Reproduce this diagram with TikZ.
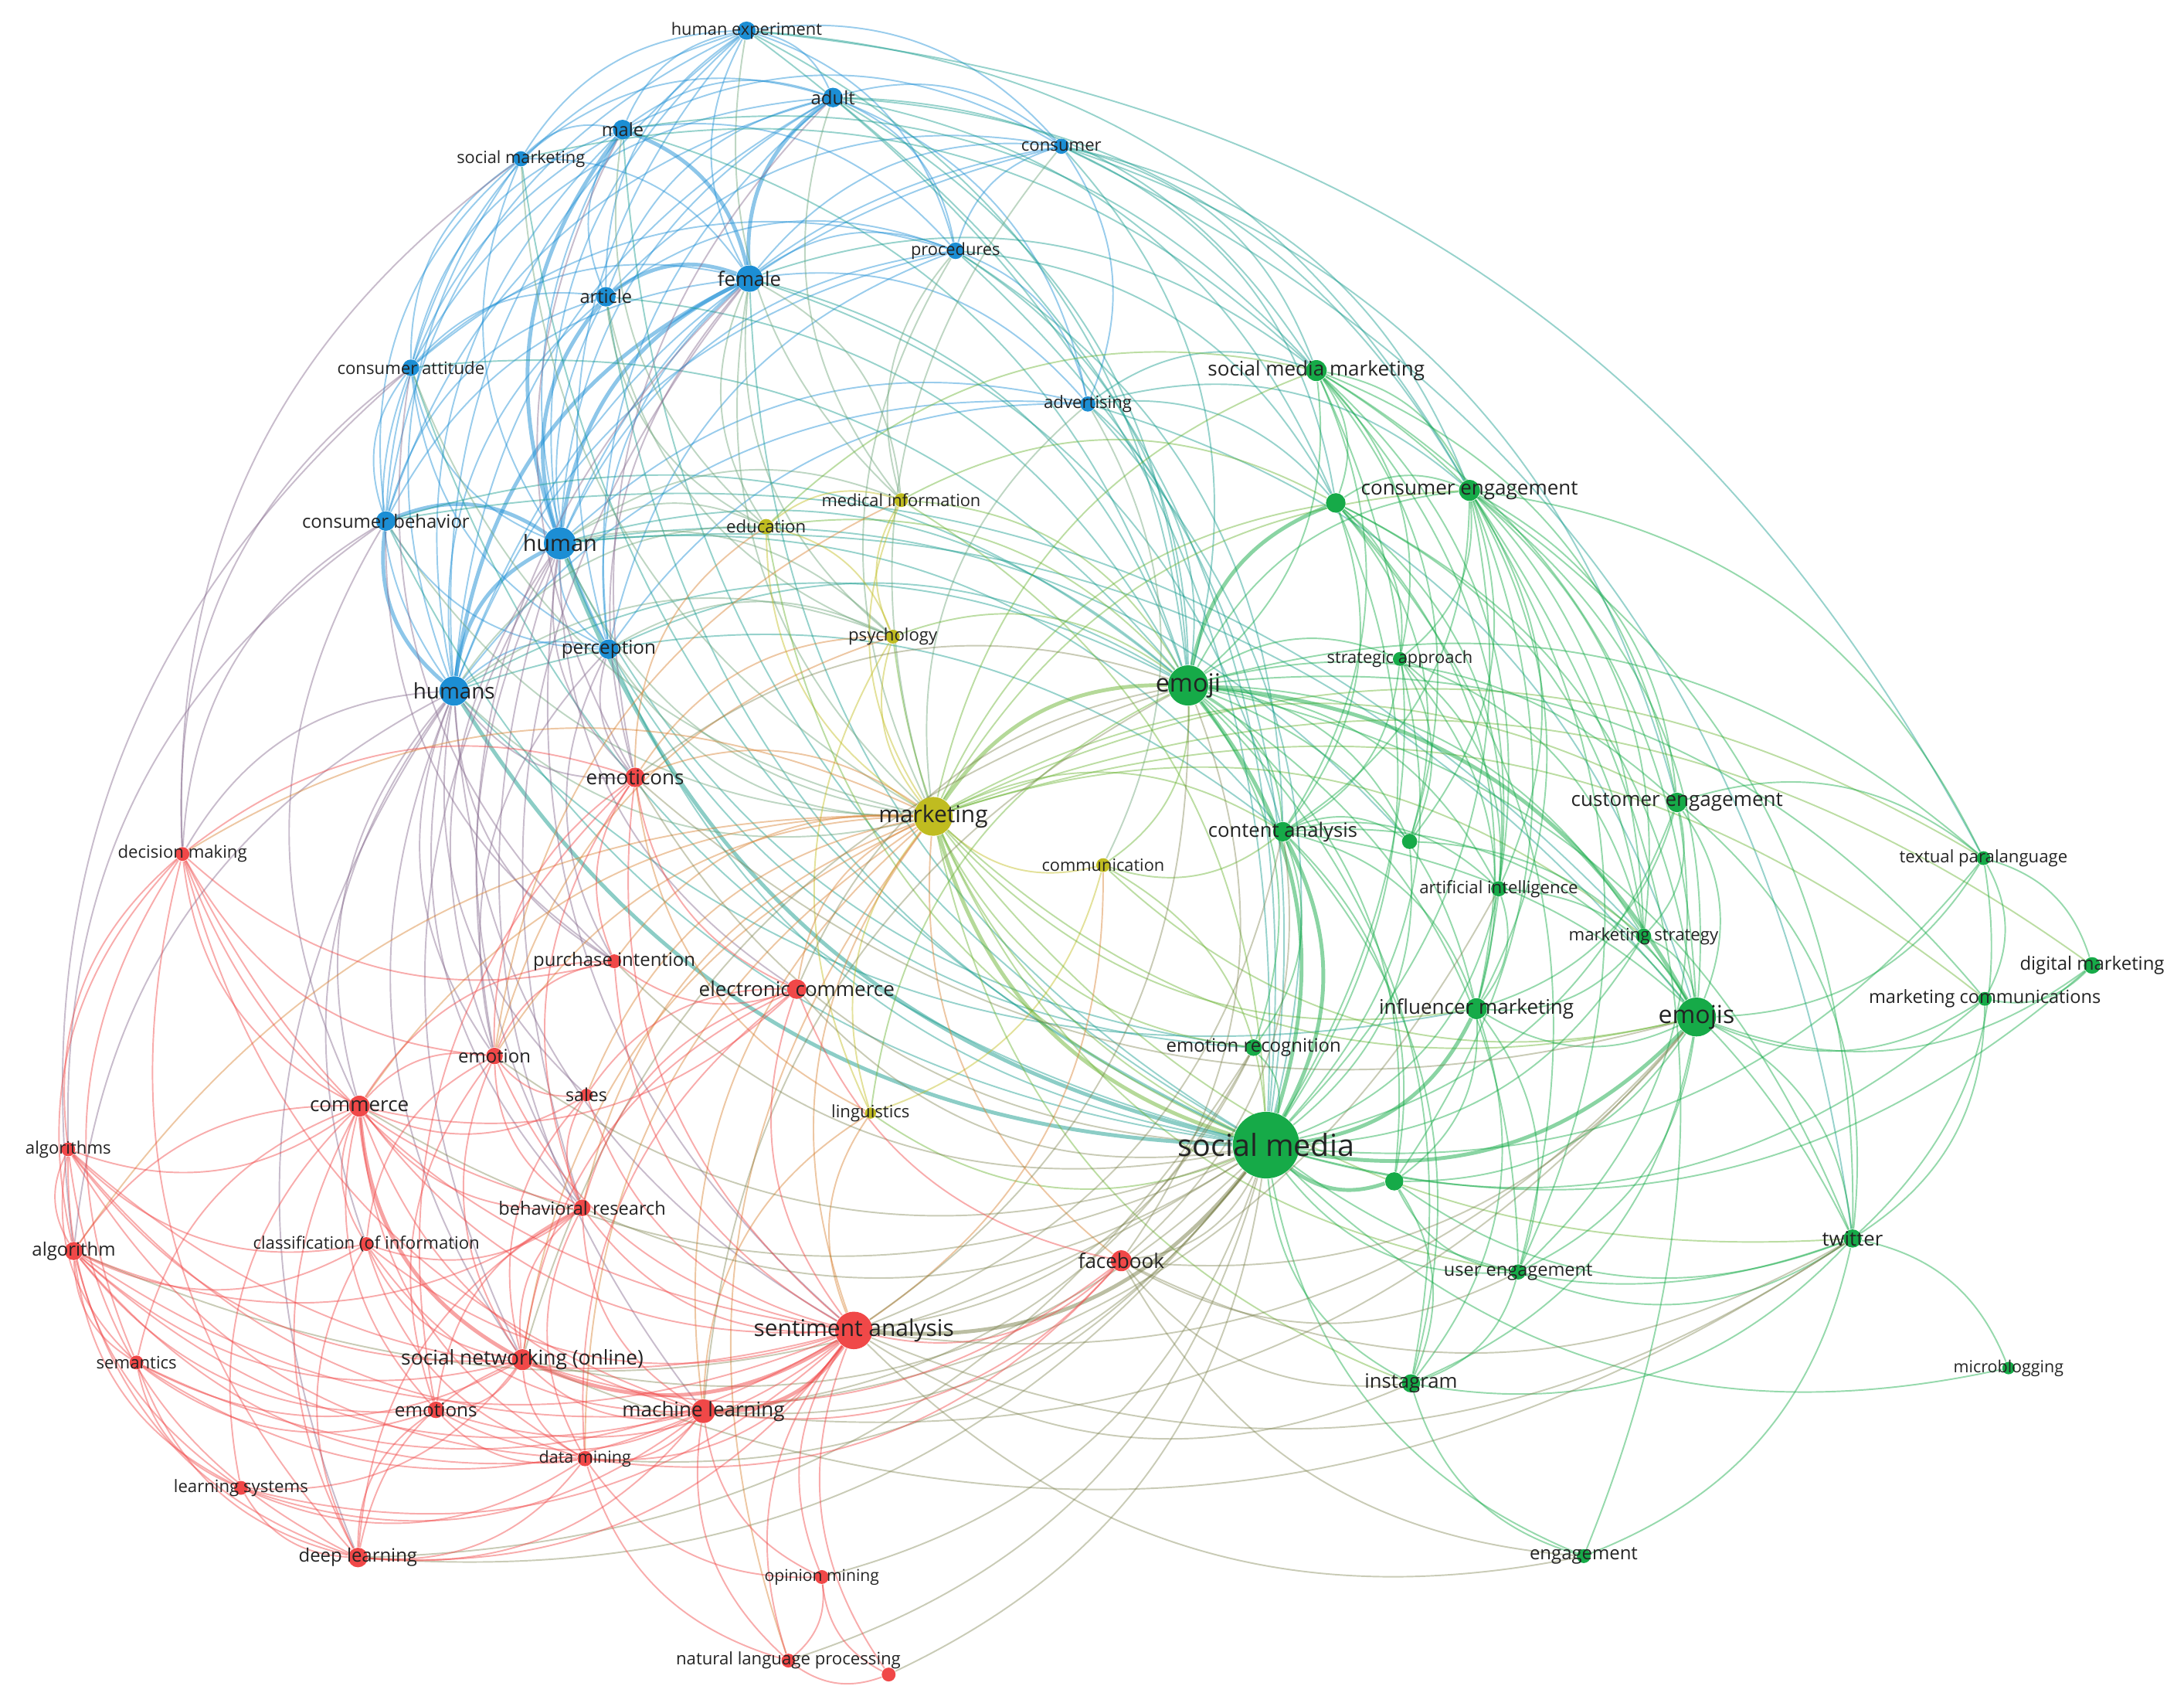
\documentclass[tikz,border=0pt]{standalone}
\usepackage{fontspec}
\setmainfont{Open Sans}
\usepackage{tikz}
\usetikzlibrary{calc}
\definecolor{kwblue}{RGB}{28,142,212}
\definecolor{kwgreen}{RGB}{22,170,72}
\definecolor{kwred}{RGB}{240,72,72}
\definecolor{kwyellow}{RGB}{192,188,32}
\definecolor{kwtext}{RGB}{35,35,35}
\pgfdeclarelayer{background}
\pgfsetlayers{background,main}

% curved links, bent away from the middle of the map
\newcommand{\links}[2]{%
  \foreach \a/\b in {#2}{%
    \draw[#1] let \p1=(\a), \p2=(\b), \p3=(ctr),
      \n1={28*sign(((\x2)-(\x1))/100*(((\y1)+(\y2))/200-(\y3)/100)-((\y2)-(\y1))/100*(((\x1)+(\x2))/200-(\x3)/100))}
      in (\a) to[bend left=\n1] (\b);
  }%
}

\begin{document}
\begin{tikzpicture}[x=0.018cm, y=-0.018cm,
    kw/.style={circle, inner sep=0pt, fill=#1},
    lbl/.style={font=\fontsize{#1}{#1}\selectfont, text=kwtext, inner sep=0pt},
    link/.style={line width=0.55pt, draw opacity=0.45},
    strong/.style={line width=1.4pt, draw opacity=0.5},
    bb/.style={link, draw=kwblue}, gg/.style={link, draw=kwgreen},
    rr/.style={link, draw=kwred}, yy/.style={link, draw=kwyellow},
    bg/.style={link, draw=kwblue!50!kwgreen}, by/.style={link, draw=kwblue!50!kwyellow},
    br/.style={link, draw=kwblue!50!kwred}, yg/.style={link, draw=kwyellow!50!kwgreen},
    yr/.style={link, draw=kwyellow!50!kwred}, gr/.style={link, draw=kwgreen!55!kwred, draw opacity=0.4}]
  \useasboundingbox (0,0) rectangle (1568,1222);
  \coordinate (ctr) at (784,611);

  % Blue cluster
  \node[kw=kwblue, minimum size=6.7pt, label={[lbl=6.2]center:human experiment}] (hexp) at (536,22) {};
  \node[kw=kwblue, minimum size=7.2pt, label={[lbl=6.8]center:adult}] (adult) at (598,70) {};
  \node[kw=kwblue, minimum size=7.2pt, label={[lbl=6.7]center:male}] (male) at (447,93) {};
  \node[kw=kwblue, minimum size=5.6pt, label={[lbl=6.2]center:social marketing}] (socmkt) at (374,114) {};
  \node[kw=kwblue, minimum size=5.6pt, label={[lbl=6.3]center:consumer}] (consumer) at (762,105) {};
  \node[kw=kwblue, minimum size=6.1pt, label={[lbl=6.2]center:procedures}] (proced) at (686,180) {};
  \node[kw=kwblue, minimum size=9.7pt, label={[lbl=7.3]center:female}] (female) at (538,200) {};
  \node[kw=kwblue, minimum size=7.2pt, label={[lbl=6.7]center:article}] (article) at (435,213) {};
  \node[kw=kwblue, minimum size=6.1pt, label={[lbl=6.3]center:consumer attitude}] (conatt) at (295,264) {};
  \node[kw=kwblue, minimum size=5.6pt, label={[lbl=6.3]center:advertising}] (advert) at (781,290) {};
  \node[kw=kwblue, minimum size=7.2pt, label={[lbl=6.8]center:consumer behavior}] (conbeh) at (277,374) {};
  \node[kw=kwblue, minimum size=11.8pt, label={[lbl=8.2]center:human}] (human) at (402,390) {};
  \node[kw=kwblue, minimum size=7.2pt, label={[lbl=6.9]center:perception}] (percep) at (437,466) {};
  \node[kw=kwblue, minimum size=10.8pt, label={[lbl=7.9]center:humans}] (humans) at (326,496) {};

  % Yellow cluster
  \node[kw=kwyellow, minimum size=5.1pt, label={[lbl=6.2]center:medical information}] (medinf) at (647,359) {};
  \node[kw=kwyellow, minimum size=5.6pt, label={[lbl=6.3]center:education}] (educ) at (550,378) {};
  \node[kw=kwyellow, minimum size=5.1pt, label={[lbl=6.3]center:psychology}] (psych) at (641,457) {};
  \node[kw=kwyellow, minimum size=14.3pt, label={[lbl=8.5]center:marketing}] (mkt) at (670,586) {};
  \node[kw=kwyellow, minimum size=5.1pt, label={[lbl=6.2]center:communication}] (comm) at (792,621) {};
  \node[kw=kwyellow, minimum size=4.1pt, label={[lbl=6.3]center:linguistics}] (ling) at (625,799) {};

  % Green cluster
  \node[kw=kwgreen, minimum size=7.7pt, label={[lbl=7.4]center:social media marketing}] (smm) at (945,266) {};
  \node[kw=kwgreen, minimum size=7.2pt] (g1) at (959,361) {};
  \node[kw=kwgreen, minimum size=7.7pt, label={[lbl=7.4]center:consumer engagement}] (coneng) at (1055,352) {};
  \node[kw=kwgreen, minimum size=5.1pt, label={[lbl=6.2]center:strategic approach}] (strat) at (1005,473) {};
  \node[kw=kwgreen, minimum size=14.8pt, label={[lbl=9.2]center:emoji}] (emoji) at (853,492) {};
  \node[kw=kwgreen, minimum size=7.2pt, label={[lbl=7.4]center:customer engagement}] (custeng) at (1204,576) {};
  \node[kw=kwgreen, minimum size=7.2pt, label={[lbl=7.3]center:content analysis}] (contan) at (921,597) {};
  \node[kw=kwgreen, minimum size=5.6pt] (g2) at (1012,604) {};
  \node[kw=kwgreen, minimum size=5.6pt, label={[lbl=6.3]center:artificial intelligence}] (ai) at (1076,638) {};
  \node[kw=kwgreen, minimum size=5.1pt, label={[lbl=6.3]center:textual paralanguage}] (textpara) at (1424,616) {};
  \node[kw=kwgreen, minimum size=5.6pt, label={[lbl=6.3]center:marketing strategy}] (mktstrat) at (1180,672) {};
  \node[kw=kwgreen, minimum size=6.1pt, label={[lbl=6.8]center:digital marketing}] (digmkt) at (1502,693) {};
  \node[kw=kwgreen, minimum size=7.7pt, label={[lbl=7.4]center:influencer marketing}] (inflmkt) at (1060,724) {};
  \node[kw=kwgreen, minimum size=14.3pt, label={[lbl=9.1]center:emojis}] (emojis) at (1218,730) {};
  \node[kw=kwgreen, minimum size=5.1pt, label={[lbl=6.7]center:marketing communications}] (mktcomm) at (1425,717) {};
  \node[kw=kwgreen, minimum size=6.1pt, label={[lbl=6.8]center:emotion recognition}] (emorec) at (900,752) {};
  \node[kw=kwgreen, minimum size=24.5pt, label={[lbl=11.2]center:social media}] (sm) at (909,822) {};
  \node[kw=kwgreen, minimum size=6.7pt] (g3) at (1001,848) {};
  \node[kw=kwgreen, minimum size=6.7pt, label={[lbl=7.3]center:twitter}] (twitter) at (1330,889) {};
  \node[kw=kwgreen, minimum size=5.6pt, label={[lbl=6.7]center:user engagement}] (usereng) at (1090,913) {};
  \node[kw=kwgreen, minimum size=6.7pt, label={[lbl=7.3]center:instagram}] (insta) at (1013,993) {};
  \node[kw=kwgreen, minimum size=4.6pt, label={[lbl=6.1]center:microblogging}] (microb) at (1442,982) {};
  \node[kw=kwgreen, minimum size=5.1pt, label={[lbl=6.8]center:engagement}] (engage) at (1137,1117) {};

  % Red cluster
  \node[kw=kwred, minimum size=7.2pt, label={[lbl=7.4]center:emoticons}] (emoticons) at (456,558) {};
  \node[kw=kwred, minimum size=5.1pt, label={[lbl=6.3]center:decision making}] (decmak) at (131,613) {};
  \node[kw=kwred, minimum size=5.1pt, label={[lbl=6.8]center:purchase intention}] (purint) at (441,690) {};
  \node[kw=kwred, minimum size=7.2pt, label={[lbl=7.4]center:electronic commerce}] (ecom) at (572,710) {};
  \node[kw=kwred, minimum size=6.1pt, label={[lbl=6.8]center:emotion}] (emotion) at (355,758) {};
  \node[kw=kwred, minimum size=7.7pt, label={[lbl=7.4]center:commerce}] (commerce) at (258,794) {};
  \node[kw=kwred, minimum size=4.6pt, label={[lbl=6.6]center:sales}] (sales) at (421,786) {};
  \node[kw=kwred, minimum size=5.1pt, label={[lbl=6.3]center:algorithms}] (algs) at (49,825) {};
  \node[kw=kwred, minimum size=6.1pt, label={[lbl=6.7]center:behavioral research}] (behres) at (418,867) {};
  \node[kw=kwred, minimum size=5.1pt, label={[lbl=6.3]center:classification (of information}] (classinf) at (263,893) {};
  \node[kw=kwred, minimum size=6.7pt, label={[lbl=6.8]center:algorithm}] (alg) at (53,898) {};
  \node[kw=kwred, minimum size=7.7pt, label={[lbl=7.4]center:facebook}] (facebook) at (805,905) {};
  \node[kw=kwred, minimum size=13.8pt, label={[lbl=8.5]center:sentiment analysis}] (senti) at (613,955) {};
  \node[kw=kwred, minimum size=5.1pt, label={[lbl=6.3]center:semantics}] (semant) at (98,978) {};
  \node[kw=kwred, minimum size=7.7pt, label={[lbl=7.5]center:social networking (online)}] (socnet) at (375,976) {};
  \node[kw=kwred, minimum size=6.1pt, label={[lbl=6.9]center:emotions}] (emotions) at (313,1012) {};
  \node[kw=kwred, minimum size=8.7pt, label={[lbl=7.4]center:machine learning}] (ml) at (505,1013) {};
  \node[kw=kwred, minimum size=5.6pt, label={[lbl=6.1]center:data mining}] (dmining) at (420,1047) {};
  \node[kw=kwred, minimum size=5.1pt, label={[lbl=6.3]center:learning systems}] (lsys) at (173,1068) {};
  \node[kw=kwred, minimum size=7.2pt, label={[lbl=6.8]center:deep learning}] (dlearn) at (257,1118) {};
  \node[kw=kwred, minimum size=5.1pt, label={[lbl=6.0]center:opinion mining}] (opmin) at (590,1132) {};
  \node[kw=kwred, minimum size=5.1pt, label={[lbl=6.3]center:natural language processing}] (nlp) at (566,1192) {};
  \node[kw=kwred, minimum size=5.1pt] (r1) at (638,1202) {};

  \begin{pgfonlayer}{background}
    % links inside the blue cluster
    \links{bb}{hexp/adult, hexp/male, hexp/female, hexp/human, hexp/humans, hexp/article, hexp/conatt,
      hexp/conbeh, hexp/percep, hexp/proced, hexp/consumer, hexp/socmkt,
      adult/male, adult/human, adult/humans, adult/article, adult/conatt, adult/conbeh, adult/percep,
      adult/proced, adult/consumer, adult/advert, adult/socmkt,
      male/humans, male/article, male/socmkt, male/conatt, male/conbeh, male/percep, male/proced, male/consumer,
      female/conatt, female/conbeh, female/percep, female/proced, female/consumer, female/advert, female/socmkt,
      article/humans, article/conatt, article/conbeh, article/percep, article/proced, article/consumer,
      human/socmkt, human/conatt, human/percep, human/proced, human/consumer, human/advert,
      humans/socmkt, humans/conatt, humans/percep, humans/proced, humans/consumer, humans/advert,
      conatt/conbeh, conatt/percep, conatt/socmkt, conatt/proced, conbeh/percep, conbeh/socmkt,
      percep/proced, percep/advert, proced/consumer, proced/advert, consumer/advert}
    \links{bb, strong}{human/humans, human/female, humans/female, male/female, human/male, human/article,
      female/article, humans/conbeh, human/conbeh, adult/female}
    % blue to other clusters
    \links{bg}{human/emoji, humans/emoji, female/sm, female/emoji, female/smm, adult/emoji, adult/sm, adult/coneng,
      male/sm, male/emoji, hexp/emoji, hexp/textpara, hexp/sm, consumer/smm, consumer/coneng, consumer/g1,
      consumer/emoji, consumer/twitter, proced/sm, proced/emoji, proced/g1, proced/contan, advert/smm, advert/sm,
      advert/emoji, advert/g1, advert/coneng, advert/emojis, article/sm, article/emoji, conatt/sm, conatt/emoji,
      conbeh/sm, conbeh/emoji, conbeh/mktstrat, percep/sm, percep/emoji, percep/emorec, socmkt/smm, socmkt/sm,
      female/contan, human/contan, humans/contan, human/emojis, humans/inflmkt, human/g2, consumer/custeng,
      adult/g1, male/smm, hexp/coneng, human/emorec, adult/smm}
    \links{bg, strong}{human/sm, humans/sm}
    \links{by}{human/mkt, humans/mkt, female/mkt, human/educ, female/educ, male/educ, adult/medinf, hexp/medinf,
      human/psych, humans/psych, female/psych, article/psych, consumer/mkt, proced/mkt, proced/medinf, advert/mkt,
      advert/comm, conatt/mkt, conbeh/mkt, percep/mkt, percep/psych, socmkt/mkt, article/educ, humans/educ,
      human/medinf, female/medinf}
    \links{br}{humans/emoticons, human/emoticons, humans/decmak, humans/commerce, humans/emotion, human/emotion,
      humans/behres, human/behres, percep/emoticons, percep/emotion, conbeh/decmak, conbeh/commerce, conatt/decmak,
      socmkt/decmak, female/emotion, female/emoticons, adult/emoticons, male/emoticons, humans/socnet, human/socnet,
      humans/senti, human/senti, conbeh/purint, conatt/purint, humans/purint, humans/alg, conbeh/algs,
      humans/classinf, percep/purint, human/ecom, humans/sales, humans/dlearn, human/ml, conatt/alg, female/behres}

    % links around marketing
    \links{yy}{mkt/educ, mkt/medinf, mkt/psych, mkt/comm, mkt/ling, educ/psych, medinf/psych, educ/medinf,
      psych/ling, comm/ling}
    \links{yg}{mkt/smm, mkt/coneng, mkt/g1, mkt/contan, mkt/emojis, mkt/inflmkt, mkt/emorec, mkt/custeng,
      mkt/mktcomm, mkt/mktstrat, mkt/twitter, medinf/emoji, medinf/sm, educ/emoji, educ/sm, psych/emoji, psych/sm,
      comm/sm, comm/emoji, comm/contan, ling/sm, ling/emoji, mkt/digmkt, mkt/textpara, mkt/usereng, mkt/insta,
      comm/emojis, medinf/g1, educ/smm}
    \links{yg, strong}{mkt/sm, mkt/emoji}
    \links{yr}{mkt/senti, mkt/ecom, mkt/emoticons, mkt/commerce, mkt/decmak, mkt/facebook, mkt/socnet, mkt/ml,
      mkt/behres, mkt/emotion, mkt/purint, mkt/sales, ling/senti, ling/emoticons, psych/emotion, psych/emoticons,
      educ/emoticons, mkt/nlp, comm/senti, ling/ml, mkt/dmining, medinf/emotion, mkt/alg}

    % links inside the green cluster
    \links{gg}{sm/smm, sm/g1, sm/coneng, sm/strat, sm/custeng, sm/g2, sm/ai, sm/textpara, sm/mktstrat,
      sm/digmkt, sm/mktcomm, sm/emorec, sm/twitter, sm/usereng, sm/insta, sm/microb, sm/engage,
      emoji/smm, emoji/coneng, emoji/strat, emoji/custeng, emoji/contan, emoji/g2, emoji/ai, emoji/textpara,
      emoji/mktstrat, emoji/inflmkt, emoji/mktcomm, emoji/emorec, emoji/g3, emoji/twitter, emoji/usereng, emoji/insta,
      emojis/smm, emojis/g1, emojis/coneng, emojis/custeng, emojis/contan, emojis/g2, emojis/ai, emojis/textpara,
      emojis/mktstrat, emojis/digmkt, emojis/inflmkt, emojis/mktcomm, emojis/g3, emojis/twitter, emojis/usereng,
      emojis/insta, smm/g1, smm/coneng, smm/strat, smm/contan, smm/g2, smm/inflmkt, smm/mktstrat, smm/custeng, smm/ai,
      g1/coneng, g1/strat, g1/contan, g1/g2, g1/inflmkt, g1/ai, g1/mktstrat, g1/usereng,
      coneng/strat, coneng/custeng, coneng/contan, coneng/g2, coneng/ai, coneng/inflmkt, coneng/mktstrat, coneng/g3,
      coneng/usereng, coneng/engage, coneng/twitter, coneng/textpara,
      strat/contan, strat/g2, strat/ai, strat/inflmkt, strat/mktstrat,
      contan/g2, contan/ai, contan/inflmkt, contan/emorec, contan/g3, contan/insta, contan/twitter,
      inflmkt/ai, inflmkt/mktstrat, inflmkt/g3, inflmkt/usereng, inflmkt/insta, inflmkt/custeng,
      custeng/mktstrat, custeng/usereng, custeng/twitter, custeng/textpara,
      twitter/microb, twitter/mktcomm, twitter/usereng, twitter/textpara, twitter/insta, twitter/engage,
      mktcomm/textpara, mktcomm/digmkt, textpara/digmkt, insta/engage, insta/usereng, insta/g3, g3/usereng, g3/twitter}
    \links{gg, strong}{sm/emoji, sm/emojis, emoji/emojis, sm/inflmkt, sm/contan, emoji/g1, sm/g3}
    \links{gr}{sm/facebook, sm/socnet, sm/ml, sm/ecom, sm/commerce, sm/emoticons, sm/dmining, sm/dlearn, sm/nlp,
      sm/opmin, sm/behres, sm/emotion, sm/purint, emoji/senti, emoji/emoticons, emoji/ecom, emoji/facebook, emoji/ml,
      emoji/socnet, emojis/senti, emojis/facebook, emojis/ml, twitter/senti, twitter/facebook,
      insta/facebook, insta/senti, emorec/senti, emorec/ml, emorec/dlearn, contan/senti, contan/facebook,
      engage/senti, engage/facebook, ai/ml, usereng/facebook, sm/r1, twitter/socnet, emojis/emoticons, sm/alg}
    \links{gr, strong}{sm/senti}

    % links inside the red cluster
    \links{rr}{senti/dmining, senti/dlearn, senti/nlp, senti/opmin, senti/r1, senti/emotions, senti/facebook,
      senti/ecom, senti/emoticons, senti/commerce, senti/behres, senti/classinf, senti/alg, senti/algs, senti/semant,
      senti/lsys, senti/emotion, senti/sales, senti/purint, senti/decmak,
      ml/socnet, ml/dmining, ml/dlearn, ml/nlp, ml/opmin, ml/emotions, ml/alg, ml/algs, ml/classinf, ml/lsys,
      ml/commerce, ml/behres, ml/semant, ml/facebook, ml/decmak,
      socnet/dmining, socnet/dlearn, socnet/emotions, socnet/behres, socnet/classinf, socnet/alg, socnet/algs,
      socnet/emotion, socnet/facebook, socnet/ecom, socnet/lsys, socnet/semant, socnet/sales,
      commerce/ecom, commerce/behres, commerce/classinf, commerce/alg, commerce/algs, commerce/decmak,
      commerce/emotion, commerce/sales, commerce/dlearn, commerce/emotions, commerce/purint, commerce/semant,
      commerce/lsys, commerce/dmining,
      dlearn/lsys, dlearn/alg, dlearn/algs, dlearn/semant, dlearn/emotions, dlearn/dmining, dlearn/classinf,
      dlearn/behres, dlearn/decmak,
      alg/algs, alg/semant, alg/lsys, alg/decmak, alg/classinf, alg/dmining, alg/emotions, alg/behres,
      algs/semant, algs/lsys, algs/decmak, algs/classinf, algs/dmining,
      decmak/emotion, decmak/behres, decmak/semant, decmak/purint, decmak/emoticons,
      emotion/emoticons, emotion/behres, emotion/emotions, emotion/sales, emotion/purint, emotion/classinf,
      emoticons/purint, emoticons/ecom, emoticons/behres, emoticons/emotions,
      ecom/purint, ecom/sales, ecom/facebook, ecom/behres, ecom/dmining,
      behres/emotions, behres/classinf, behres/sales, behres/dmining,
      dmining/classinf, dmining/emotions, dmining/lsys, dmining/opmin, dmining/nlp,
      nlp/opmin, nlp/r1, opmin/r1, semant/lsys, semant/emotions, facebook/dmining}
    \links{rr, strong}{senti/ml, socnet/commerce, senti/socnet}
  \end{pgfonlayer}
\end{tikzpicture}
\end{document}
